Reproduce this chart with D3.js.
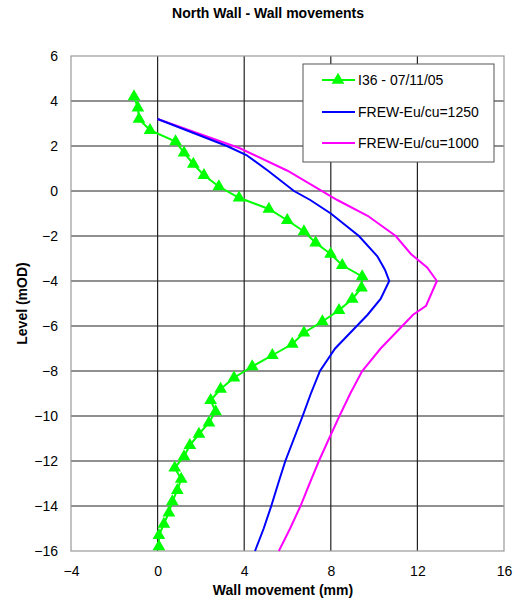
<!DOCTYPE html>
<html>
<head>
<meta charset="utf-8">
<script src="https://cdn.jsdelivr.net/npm/d3@7"></script>
<style>
  body { margin: 0; background: #fff; }
  text { font-family: "Liberation Sans", Arial, sans-serif; }
</style>
</head>
<body>
<svg id="chart" width="520" height="600"></svg>
<script>
// series data: [level (mOD), movement (mm)]
const i36Levels = [4.2, 3.7, 3.2, 2.7, 2.2, 1.7, 1.2, 0.7, 0.2, -0.3, -0.8, -1.3, -1.8, -2.3, -2.8, -3.3, -3.8, -4.3, -4.8, -5.3, -5.8, -6.3, -6.8, -7.3, -7.8, -8.3, -8.8, -9.3, -9.8, -10.3, -10.8, -11.3, -11.8, -12.3, -12.8, -13.3, -13.8, -14.3, -14.8, -15.3, -15.8];
const i36Moves = [-1.09, -0.91, -0.86, -0.35, 0.83, 1.22, 1.65, 2.14, 2.83, 3.76, 5.14, 5.99, 6.76, 7.3, 7.99, 8.53, 9.45, 9.42, 8.99, 8.38, 7.61, 6.76, 6.22, 5.3, 4.37, 3.53, 2.91, 2.45, 2.68, 2.37, 1.91, 1.49, 1.22, 0.79, 1.09, 0.91, 0.68, 0.52, 0.29, 0.06, 0.06];

const frew1250Levels = [3.2, 2.6, 2.0, 1.6, 0.9, 0.0, -0.4, -1.0, -2.0, -2.9, -3.5, -4.0, -4.8, -5.5, -6.0, -7.0, -8.0, -9.0, -10.0, -11.0, -12.0, -13.0, -14.0, -15.0, -16.0];
const frew1250Moves = [0, 1.6, 3.2, 4.1, 5.1, 6.3, 7.05, 8.0, 9.3, 10.15, 10.5, 10.7, 10.3, 9.7, 9.2, 8.2, 7.5, 7.08, 6.7, 6.3, 5.9, 5.57, 5.25, 4.9, 4.5];

const frew1000Levels = [3.2, 1.9, 0.9, -0.4, -1.1, -2.0, -2.8, -3.4, -4.0, -5.1, -5.5, -6.2, -7.0, -8.0, -9.0, -10.0, -11.0, -12.0, -13.0, -14.0, -15.0, -16.0];
const frew1000Moves = [0, 3.8, 6.0, 8.3, 9.7, 11.0, 11.7, 12.45, 12.9, 12.4, 11.8, 11.1, 10.3, 9.45, 8.9, 8.4, 7.92, 7.45, 7.02, 6.6, 6.12, 5.6];

const xTicks = [-4, 0, 4, 8, 12, 16];
const yTicks = [6, 4, 2, 0, -2, -4, -6, -8, -10, -12, -14, -16];
const seriesNames = ["I36 - 07/11/05", "FREW-Eu/cu=1250", "FREW-Eu/cu=1000"];

const svg = d3.select("#chart");
const plotLeft = 71, plotRight = 504, plotTop = 56, plotBottom = 551;
const fontSize = "14px";

const x = d3.scaleLinear().domain([-4, 16]).range([plotLeft, plotRight]);
const y = d3.scaleLinear().domain([-16, 6]).range([plotBottom, plotTop]);

// Title
svg.append("text")
    .attr("x", 268).attr("y", 18)
    .attr("text-anchor", "middle")
    .style("font-size", fontSize).style("font-weight", "bold")
    .text("North Wall - Wall movements");

// Grid
const grid = svg.append("g");
grid.selectAll("line.h")
    .data(yTicks.filter(d => d !== 6 && d !== -16))
    .join("line")
    .attr("class", "h")
    .attr("x1", plotLeft).attr("x2", plotRight)
    .attr("y1", d => y(d)).attr("y2", d => y(d))
    .attr("stroke", "#222").attr("stroke-width", 1.2);
grid.selectAll("line.v")
    .data(xTicks.filter(d => d !== -4 && d !== 16))
    .join("line")
    .attr("class", "v")
    .attr("y1", plotTop).attr("y2", plotBottom)
    .attr("x1", d => x(d)).attr("x2", d => x(d))
    .attr("stroke", "#222").attr("stroke-width", 1.2);

// Border
svg.append("rect")
    .attr("x", plotLeft).attr("y", plotTop)
    .attr("width", plotRight - plotLeft).attr("height", plotBottom - plotTop)
    .attr("fill", "none").attr("stroke", "#999").attr("stroke-width", 1.2);

// Axes
const yAxis = svg.append("g")
    .attr("transform", `translate(${plotLeft},0)`)
    .call(d3.axisLeft(y).tickValues(yTicks).tickSize(0).tickPadding(13));
const xAxis = svg.append("g")
    .attr("transform", `translate(0,${plotBottom})`)
    .call(d3.axisBottom(x).tickValues(xTicks).tickSize(0).tickPadding(15));
[yAxis, xAxis].forEach(a => {
    a.select(".domain").remove();
    a.selectAll("text")
        .style("font-family", "'Liberation Sans', Arial, sans-serif")
        .style("font-size", fontSize).attr("fill", "#000");
});

// Axis titles
svg.append("text")
    .attr("x", 283).attr("y", 595)
    .attr("text-anchor", "middle")
    .style("font-size", fontSize).style("font-weight", "bold")
    .text("Wall movement (mm)");
svg.append("text")
    .attr("transform", `translate(27,${(plotTop + plotBottom) / 2}) rotate(-90)`)
    .attr("text-anchor", "middle")
    .style("font-size", fontSize).style("font-weight", "bold")
    .text("Level (mOD)");

// Lines
const line = d3.line().x(d => x(d[1])).y(d => y(d[0]));
const frew1000 = frew1000Levels.map((l, i) => [l, frew1000Moves[i]]);
const frew1250 = frew1250Levels.map((l, i) => [l, frew1250Moves[i]]);
const i36 = i36Levels.map((l, i) => [l, i36Moves[i]]);

svg.append("path").datum(frew1000).attr("d", line)
    .attr("fill", "none").attr("stroke", "#ff00ff").attr("stroke-width", 2);
svg.append("path").datum(frew1250).attr("d", line)
    .attr("fill", "none").attr("stroke", "#0000ff").attr("stroke-width", 2);
svg.append("path").datum(i36).attr("d", line)
    .attr("fill", "none").attr("stroke", "#00ff00").attr("stroke-width", 2);

const tri = d3.symbol().type(d3.symbolTriangle).size(70);
svg.append("g").selectAll("path")
    .data(i36)
    .join("path")
    .attr("d", tri)
    .attr("transform", d => `translate(${x(d[1])},${y(d[0])})`)
    .attr("fill", "#00ff00");

// Legend
const lg = svg.append("g");
lg.append("rect")
    .attr("x", 303).attr("y", 64).attr("width", 191).attr("height", 98)
    .attr("fill", "#fff").attr("stroke", "#555").attr("stroke-width", 1);
const legendColors = ["#00ff00", "#0000ff", "#ff00ff"];
const legendY = [80, 112, 143];
seriesNames.forEach((name, i) => {
    lg.append("line")
        .attr("x1", 322).attr("x2", 355)
        .attr("y1", legendY[i]).attr("y2", legendY[i])
        .attr("stroke", legendColors[i]).attr("stroke-width", 2);
    if (i === 0) {
        lg.append("path").attr("d", tri)
            .attr("transform", `translate(338,${legendY[i]})`)
            .attr("fill", "#00ff00");
    }
    lg.append("text")
        .attr("x", 358).attr("y", legendY[i] + 5)
        .style("font-size", fontSize)
        .text(name);
});
</script>
</body>
</html>
